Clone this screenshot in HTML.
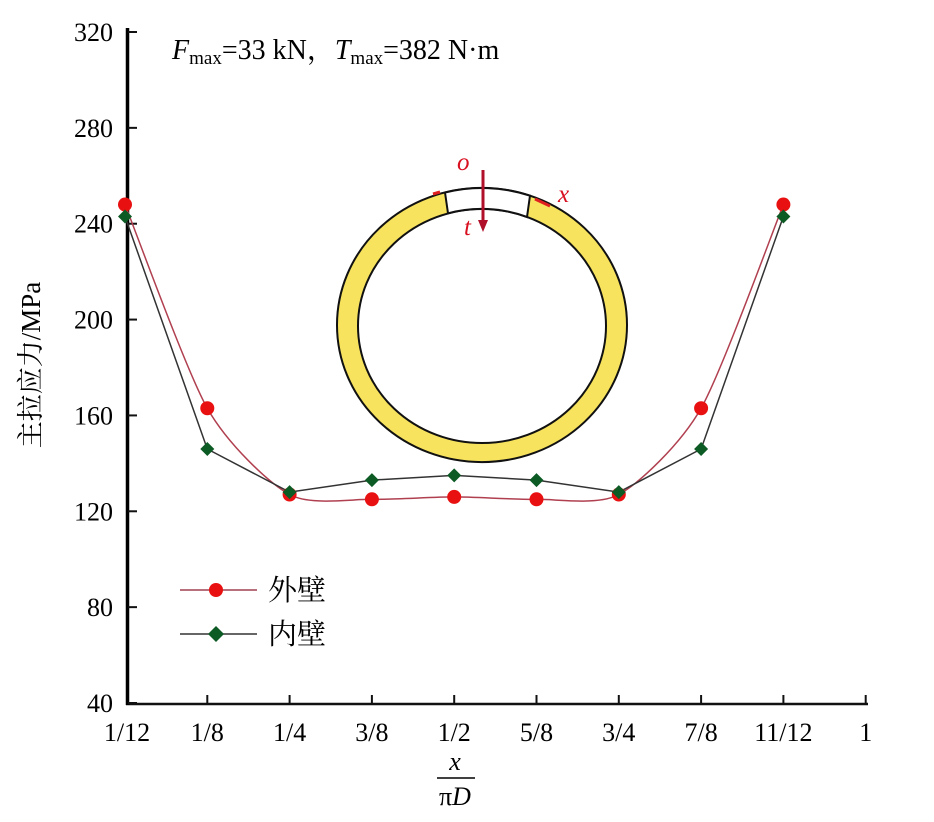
<!DOCTYPE html>
<html><head><meta charset="utf-8"><style>
body{margin:0;background:#fff;}
svg{display:block;font-family:"Liberation Serif","Noto Serif CJK SC",serif;}
</style></head><body>
<svg id="c" width="934" height="822" viewBox="0 0 934 822">
  <g id="ring">
    <path d="M337,325 a145,137 0 1,0 290,0 a145,137 0 1,0 -290,0 Z M358,326 a124,117 0 1,0 248,0 a124,117 0 1,0 -248,0 Z" fill="#f7e35e" fill-rule="evenodd" stroke="#111" stroke-width="2"/>
    <path d="M445,192.5 A145,137 0 0 1 530,195.7 L527,217 A124,117 0 0 0 448,213.3 Z" fill="#fff" stroke="#111" stroke-width="2"/>
    <line x1="483" y1="170" x2="483" y2="222" stroke="#b0102a" stroke-width="3"/>
    <polygon points="478,220 488,220 483,232" fill="#b0102a"/>
    <path d="M433,194 L440,192" stroke="#e02020" stroke-width="3"/>
    <path d="M535,199 L550,206" stroke="#e02020" stroke-width="3"/>
    <text x="457" y="170" fill="#d81020" font-size="25" font-style="italic">o</text>
    <text x="464" y="235" fill="#d81020" font-size="25" font-style="italic">t</text>
    <text x="558" y="202" fill="#d81020" font-size="25" font-style="italic">x</text>
  </g>
  <text x="172" y="59" font-size="28"><tspan font-style="italic">F</tspan><tspan font-size="19" dy="5">max</tspan><tspan dy="-5">=33 kN，</tspan><tspan font-style="italic">T</tspan><tspan font-size="19" dy="5">max</tspan><tspan dy="-5">=382 N·m</tspan></text>
  <text transform="translate(40,365) rotate(-90)" text-anchor="middle" font-size="27">主拉应力/MPa</text>
  <text x="455" y="770" text-anchor="middle" font-size="26" font-style="italic">x</text>
  <line x1="437" y1="778" x2="475" y2="778" stroke="#000" stroke-width="1.5"/>
  <text x="455" y="805" text-anchor="middle" font-size="26">π<tspan font-style="italic">D</tspan></text>
  <g id="axes"></g>
  <g id="series"></g>
  <g id="legend">
    <line x1="180" y1="590" x2="257" y2="590" stroke="#a04050" stroke-width="1.5"/>
    <circle cx="216" cy="590" r="7" fill="#e81010"/>
    <text x="268" y="600" font-size="29">外壁</text>
    <line x1="180" y1="634" x2="257" y2="634" stroke="#333" stroke-width="1.5"/>
    <polygon points="216,626 224,634 216,642 208,634" fill="#0c5a24"/>
    <text x="268" y="644" font-size="29">内壁</text>
  </g>
</svg>
<script>
const categories = ["1/12","1/8","1/4","3/8","1/2","5/8","3/4","7/8","11/12","1"];
const outerWall = [248,163,127,125,126,125,127,163,248];
const innerWall = [243,146,128,133,135,133,128,146,243];
const yTicks = [40,80,120,160,200,240,280,320];

const NS="http://www.w3.org/2000/svg";
const x0=125, dx=82.3, yBase=703, yScale=671/280;
const X=i=>x0+i*dx;
const Y=v=>yBase-(v-40)*yScale;
function mk(tag,attrs,parent){const e=document.createElementNS(NS,tag);for(const k in attrs)e.setAttribute(k,attrs[k]);parent.appendChild(e);return e;}
const axes=document.getElementById('axes'), series=document.getElementById('series');

let xl=mk('line',{x1:126,y1:yBase+1,x2:868,y2:yBase+1,stroke:'#111','stroke-width':2.5},axes);


let yl=mk('line',{x1:127.5,y1:28,x2:127.5,y2:705,stroke:'#000','stroke-width':3.5},axes);



yTicks.forEach(v=>{
  mk('line',{x1:128,y1:Y(v),x2:137,y2:Y(v),stroke:'#111','stroke-width':2},axes);
  const t=mk('text',{x:113,y:Y(v)+9,'text-anchor':'end','font-size':26},axes);
  t.textContent=v;
  
  
});
categories.forEach((c,i)=>{
  if(i>0) mk('line',{x1:X(i),y1:yBase,x2:X(i),y2:yBase-8,stroke:'#111','stroke-width':2},axes);
  const t=mk('text',{x:X(i)+(i==0?2:0),y:741,'text-anchor':'middle','font-size':26},axes);
  t.textContent=c;
  
  
});

const op=outerWall.map((v,i)=>[X(i),Y(v)]);
const k=8;
let d=`M${op[0][0]},${op[0][1]}`;
for(let i=0;i<op.length-1;i++){
  const p0=op[Math.max(i-1,0)],p1=op[i],p2=op[i+1],p3=op[Math.min(i+2,op.length-1)];
  d+=` C${p1[0]+(p2[0]-p0[0])/k},${p1[1]+(p2[1]-p0[1])/k} ${p2[0]-(p3[0]-p1[0])/k},${p2[1]-(p3[1]-p1[1])/k} ${p2[0]},${p2[1]}`;
}
const ol=mk('path',{d,fill:'none',stroke:'#b04050','stroke-width':1.5},series);


const ip=innerWall.map((v,i)=>X(i)+','+Y(v)).join(' ');
const il=mk('polyline',{points:ip,fill:'none',stroke:'#333','stroke-width':1.5},series);


outerWall.forEach((v,i)=>{
  const c=mk('circle',{cx:X(i),cy:Y(v),r:7,fill:'#e81010'},series);
  
  
});
innerWall.forEach((v,i)=>{
  const x=X(i),y=Y(v);
  const p=mk('polygon',{points:`${x},${y-7} ${x+7},${y} ${x},${y+7} ${x-7},${y}`,fill:'#0c5a24'},series);
  
  
});
</script>
</body></html>
